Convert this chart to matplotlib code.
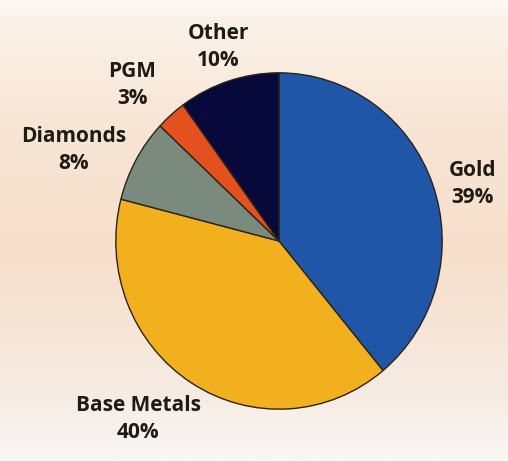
import numpy as np
import matplotlib.pyplot as plt
from matplotlib.colors import LinearSegmentedColormap

labels = ['Gold', 'Base Metals', 'Diamonds', 'PGM', 'Other']
shares = [39, 40, 8, 3, 10]
colors = ['#1f56a8', '#f2b01e', '#7a8a7c', '#e5501f', '#06093a']

fig = plt.figure(figsize=(5.08, 4.61), dpi=100)

# background gradient (white -> peach -> white)
bg = fig.add_axes([0, 0, 1, 1])
bg_cmap = LinearSegmentedColormap.from_list(
    'bg', [(0.0, '#fdfbfa'), (0.04, '#fbf3ea'), (0.25, '#f8e6d6'),
           (0.55, '#f7dfcc'), (0.85, '#f6ebe2'), (1.0, '#faf7f6')])
grad = np.linspace(0, 1, 256).reshape(-1, 1)
bg.imshow(grad, aspect='auto', cmap=bg_cmap, extent=[0, 1, 0, 1])
bg.axis('off')

# pie (slightly taller than wide, like the reference)
cx, cy, rx, ry = 279, 241, 164, 169
ax = fig.add_axes([(cx - rx) / 508, 1 - (cy + ry) / 461, 2 * rx / 508, 2 * ry / 461])
ax.pie(shares, colors=colors, startangle=90, counterclock=False,
       wedgeprops=dict(edgecolor='#2a2418', linewidth=1.0))
ax.set_aspect('auto')
ax.set_xlim(-1.005, 1.005)
ax.set_ylim(-1.005, 1.005)
ax.axis('off')

label_pos = {'Gold': (472, 184), 'Base Metals': (138, 419), 'Diamonds': (74, 150),
             'PGM': (132, 85), 'Other': (218, 47)}
for lab, val in zip(labels, shares):
    x, y = label_pos[lab]
    fig.text(x / 508, 1 - y / 461, f'{lab}\n{val}%', ha='center', va='center',
             fontsize=15, fontweight='bold', color='#1e1a16',
             family='Open Sans', linespacing=1.4)

fig.savefig('out.png', dpi=100)
